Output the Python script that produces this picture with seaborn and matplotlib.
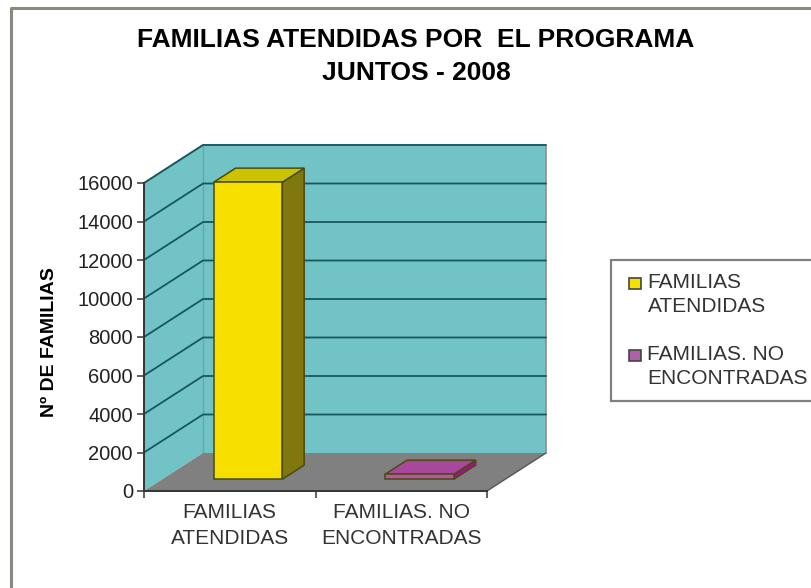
"""Familias atendidas por el programa Juntos - 2008, Excel style 3D columns."""
import matplotlib
matplotlib.use('Agg')
import matplotlib.pyplot as plt
from matplotlib.patches import Polygon, Patch, Rectangle
from matplotlib.legend_handler import HandlerPatch
from matplotlib.lines import Line2D
from matplotlib.transforms import Affine2D
import seaborn as sns

categories = ['FAMILIAS\nATENDIDAS', 'FAMILIAS. NO\nENCONTRADAS']
values = [15430, 260]
yticks = [0, 2000, 4000, 6000, 8000, 10000, 12000, 14000, 16000]

FACE = ['#f7e000', '#b4589f']
SIDE = ['#80780f', '#a80c90']
TOP = ['#cbc300', '#a8489a']
LEGEND_FACE = ['#f7e000', '#b060a8']
WALL = '#72c3c6'
FLOOR = '#808080'
GRID = '#14585c'
EDGE = '#8f8f8f'

W, H = 811, 588
sns.set_theme(style='ticks')
plt.rcParams['font.family'] = ['Liberation Sans', 'DejaVu Sans']

fig = plt.figure(figsize=(W / 100, H / 100), dpi=100)
# front plane of the 3D box, pixel position
ax = fig.add_axes([144 / W, 1 - 491 / H, 343 / W, 308 / H])

sns.barplot(x=categories, y=values, hue=categories, palette=FACE, width=0.4, saturation=1,
            legend=False, edgecolor='#4a4a10', linewidth=1.1, ax=ax)
bars = list(ax.patches)
ax.set_xlim(-0.5, 1.5)
ax.set_ylim(0, 16000)
ax.patch.set_visible(False)

# depth of the box in data units
DX = 59 / 171.5
DY = 38 * 16000 / 308
BAR_FRONT = 0.31
BAR_BACK = 0.68


def add_poly(points, color, z, edge='none', lw=0):
    ax.add_patch(Polygon(points, closed=True, facecolor=color, edgecolor=edge,
                         linewidth=lw, zorder=z, clip_on=False))


# walls and floor
add_poly([(-0.5 + DX, DY), (1.5 + DX, DY), (1.5 + DX, 16000 + DY), (-0.5 + DX, 16000 + DY)], WALL, 1)
add_poly([(-0.5, 0), (-0.5 + DX, DY), (-0.5 + DX, 16000 + DY), (-0.5, 16000)], WALL, 1)
add_poly([(-0.5, 0), (1.5, 0), (1.5 + DX, DY), (-0.5 + DX, DY)], FLOOR, 1.1)
ax.plot([-0.5, -0.5 + DX, 1.5 + DX, 1.5 + DX], [16000, 16000 + DY, 16000 + DY, DY],
        color=EDGE, lw=1.2, zorder=1.2, clip_on=False)
ax.plot([-0.5 + DX, -0.5 + DX], [DY, 16000 + DY], color='#5fa9ac', lw=1, zorder=1.05, clip_on=False)
ax.plot([1.5, 1.5 + DX], [0, DY], color='#555555', lw=1, zorder=1.2, clip_on=False)

for t in yticks[1:]:
    ax.plot([-0.5, -0.5 + DX, 1.5 + DX], [t, t + DY, t + DY], color=GRID, lw=1.3,
            zorder=1.5, clip_on=False)

# push the seaborn bars back to their depth, then add side and top faces
shift = Affine2D().translate(BAR_FRONT * DX, BAR_FRONT * DY) + ax.transData
depth_x = (BAR_BACK - BAR_FRONT) * DX
depth_y = (BAR_BACK - BAR_FRONT) * DY
for i, bar in enumerate(bars):
    bar.set_transform(shift)
    bar.set_clip_on(False)
    bar.set_zorder(4)
    x0 = bar.get_x() + BAR_FRONT * DX
    x1 = x0 + bar.get_width()
    y0 = BAR_FRONT * DY
    y1 = y0 + bar.get_height()
    add_poly([(x1, y0), (x1 + depth_x, y0 + depth_y), (x1 + depth_x, y1 + depth_y), (x1, y1)],
             SIDE[i], 3, '#4a4a10', 1.1)
    add_poly([(x0, y1), (x1, y1), (x1 + depth_x, y1 + depth_y), (x0 + depth_x, y1 + depth_y)],
             TOP[i], 3, '#4a4a10', 1.1)

sns.despine(ax=ax, top=True, right=True)
for side in ['left', 'bottom']:
    ax.spines[side].set_color('#333333')
    ax.spines[side].set_linewidth(1.4)
    ax.spines[side].set_zorder(2)

ax.set_yticks(yticks)
ax.set_yticklabels([str(t) for t in yticks], fontsize=14.5, color='#222222')
ax.set_xticks([-0.5, 0.5, 1.5], minor=False)
ax.set_xticklabels(['', '', ''])
ax.tick_params(axis='both', length=5, width=1.2, color='#444444', pad=3)
for i, c in enumerate(categories):
    ax.annotate(c, (i, 0), xycoords='data', xytext=(0, -12), textcoords='offset pixels',
                ha='center', va='top', fontsize=15, color='#333333', linespacing=1.46,
                annotation_clip=False)

ax.set_xlabel('')
ax.set_ylabel('')
fig.text(50 / W, 1 - 342 / H, 'Nº DE FAMILIAS', rotation=90, ha='center', va='center',
         fontsize=14, fontweight='bold', color='black')

fig.text(416 / W, 1 - 40 / H, 'FAMILIAS ATENDIDAS POR  EL PROGRAMA', ha='center', va='center',
         fontsize=19, fontweight='bold', color='black')
fig.text(416 / W, 1 - 73 / H, 'JUNTOS - 2008', ha='center', va='center',
         fontsize=19, fontweight='bold', color='black')

# chart area frame, runs off the right and bottom of the image
fig.add_artist(Line2D([11 / W, 11 / W, 1], [0, 1 - 8 / H, 1 - 8 / H], color='#8c8880', lw=2.2))


def top_line_swatch(legend, orig_handle, xdescent, ydescent, width, height, fontsize):
    # swatch sits next to the first text line, not centred on the whole label
    side = 0.6 * fontsize
    return Rectangle((width - side - xdescent, -ydescent + 0.55 * fontsize), side, 0.55 * fontsize)


handles = [Patch(facecolor=c, edgecolor='#444444', linewidth=1.2) for c in LEGEND_FACE]
leg = fig.legend(handles, categories, loc='upper left', bbox_to_anchor=(611 / W, 1 - 260 / H),
                 borderaxespad=0, frameon=True, fancybox=False, edgecolor='#808080', framealpha=1,
                 fontsize=15, handlelength=0.82, handleheight=0.55, handletextpad=0.3,
                 labelspacing=1.4, borderpad=0.63, labelcolor='#333333',
                 handler_map={Patch: HandlerPatch(patch_func=top_line_swatch)})
leg.get_frame().set_linewidth(1.6)
for txt in leg.get_texts():
    txt.set_linespacing(1.32)

fig.savefig('out.png', dpi=100)
